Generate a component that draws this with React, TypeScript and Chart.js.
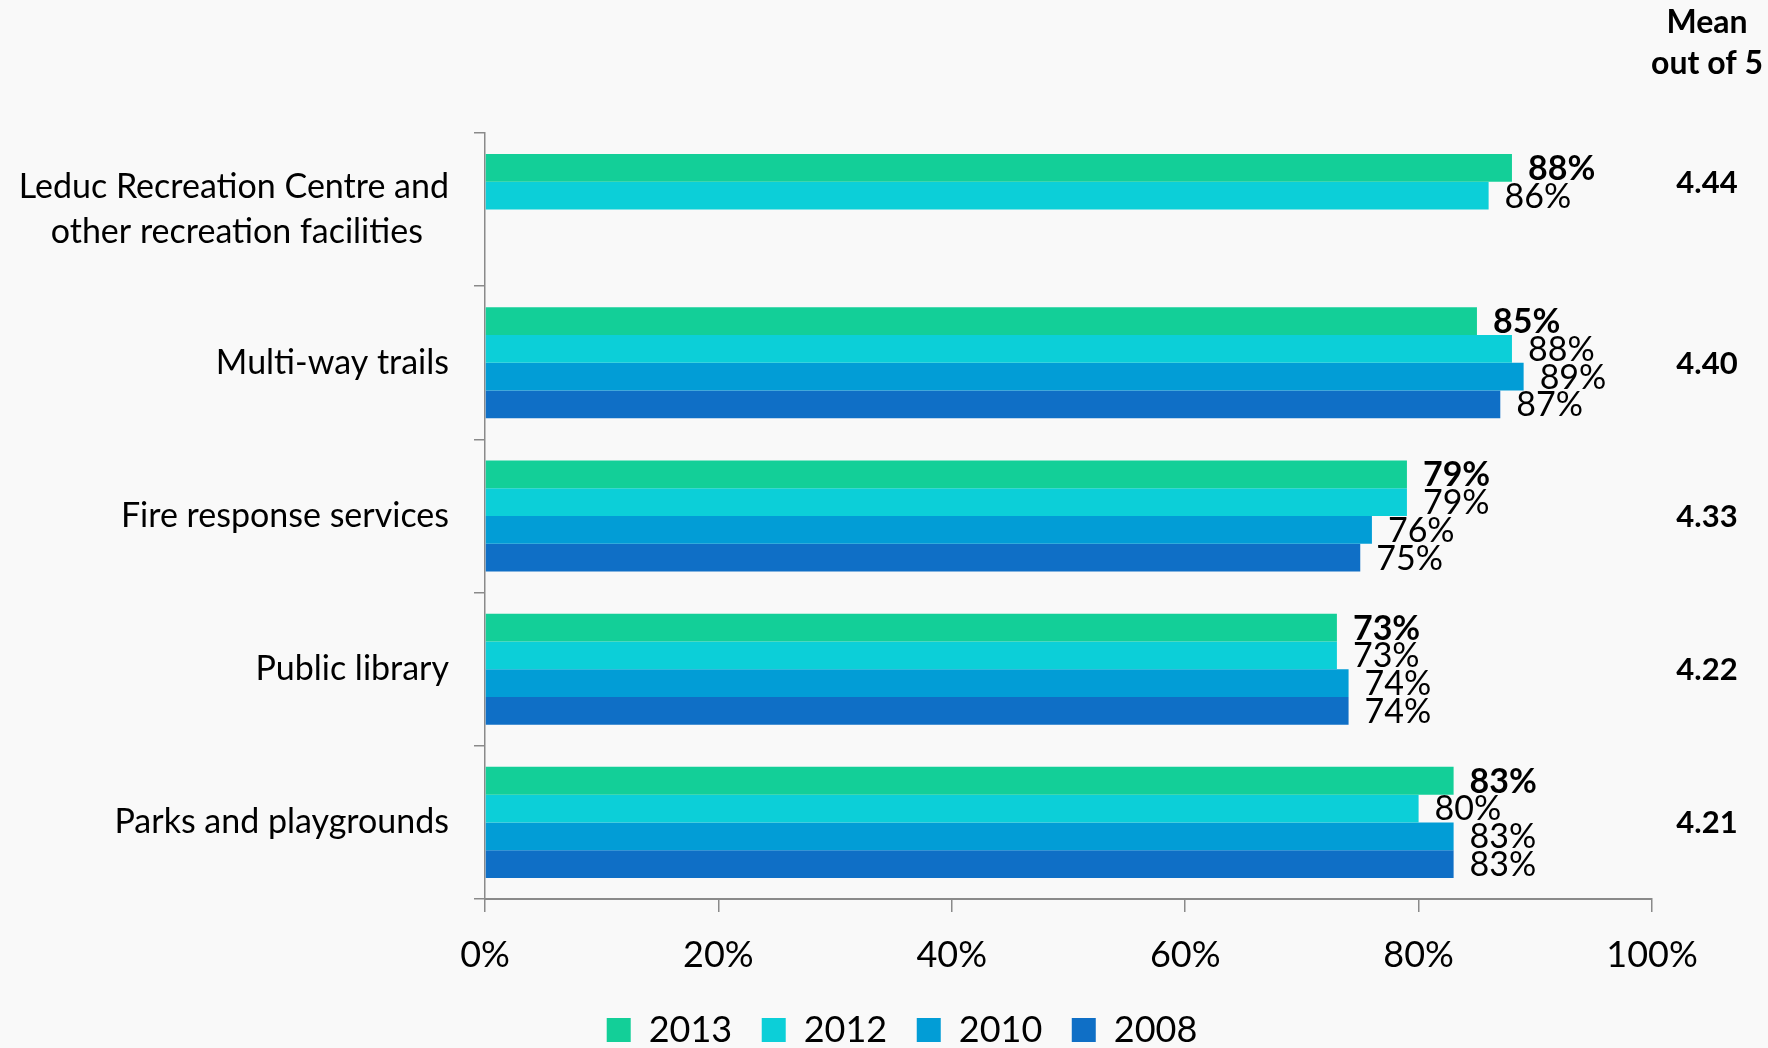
import React, { useEffect, useRef } from "react";
import { Chart, registerables } from "chart.js";

Chart.register(...registerables);

const categories: (string | string[])[] = [
  ["Leduc Recreation Centre and", "other recreation facilities\u00A0\u00A0\u00A0"],
  "Multi-way trails",
  "Fire response services",
  "Public library",
  "Parks and playgrounds",
];
const years = ["2013", "2012", "2010", "2008"];
const values2013 = [88, 85, 79, 73, 83];
const values2012 = [86, 88, 79, 73, 80];
const values2010 = [null, 89, 76, 74, 83];
const values2008 = [null, 87, 75, 74, 83];
const means = ["4.44", "4.40", "4.33", "4.22", "4.21"];
const meanHeader = ["Mean", "out of 5"];
const colors = ["#13CF98", "#0CCFD8", "#029DD6", "#0F6FC6"];

const FONT = "Lato";
const AXIS_GRAY = "#8a8a8a";
const LEGEND_LEFT_INSET = 152;

const valueLabels = {
  id: "valueLabels",
  afterDatasetsDraw(chart: any) {
    const ctx = chart.ctx;
    ctx.save();
    ctx.fillStyle = "#000";
    ctx.textBaseline = "middle";
    ctx.textAlign = "left";
    chart.data.datasets.forEach((ds: any, di: number) => {
      const meta = chart.getDatasetMeta(di);
      ctx.font = `${di === 0 ? "bold " : ""}34px ${FONT}`;
      meta.data.forEach((bar: any, i: number) => {
        const v = ds.data[i];
        if (v == null) return;
        ctx.fillText(`${v}%`, bar.x + 16, bar.y + 1);
      });
    });
    const area = chart.chartArea;
    const mx = area.right + 55;
    ctx.textAlign = "center";
    ctx.font = `bold 31px ${FONT}`;
    means.forEach((m, i) => {
      const ys: number[] = [];
      chart.data.datasets.forEach((ds: any, di: number) => {
        if (ds.data[i] != null) ys.push(chart.getDatasetMeta(di).data[i].y);
      });
      const y = ys.reduce((a, b) => a + b, 0) / ys.length;
      ctx.fillText(m, mx, y + 1);
    });
    ctx.font = `bold 32px ${FONT}`;
    ctx.fillText(meanHeader[0], mx, area.top - 110);
    ctx.fillText(meanHeader[1], mx, area.top - 69);
    ctx.restore();
  },
};

const legendShift = {
  id: "legendShift",
  afterLayout(chart: any) {
    const lg = chart.legend;
    if (lg) {
      lg.left += LEGEND_LEFT_INSET;
      lg.width -= LEGEND_LEFT_INSET;
    }
  },
};

export default function App() {
  const ref = useRef<HTMLCanvasElement | null>(null);

  useEffect(() => {
    if (!ref.current) return;
    const series = [values2013, values2012, values2010, values2008];
    const chart = new Chart(ref.current, {
      type: "bar",
      data: {
        labels: categories,
        datasets: years.map((y, i) => ({
          label: y,
          data: series[i],
          backgroundColor: colors[i],
          borderWidth: 0,
          categoryPercentage: 0.725,
          barPercentage: 1,
        })),
      },
      options: {
        indexAxis: "y",
        responsive: false,
        animation: false,
        devicePixelRatio: 1,
        layout: { padding: { top: 133, right: 116, left: 0, bottom: 0 } },
        plugins: {
          title: { display: false },
          tooltip: { enabled: false },
          legend: {
            position: "bottom",
            align: "center",
            maxHeight: 65.5,
            labels: {
              boxWidth: 24,
              boxHeight: 24,
              padding: 29.5,
              color: "#000",
              font: { family: FONT, size: 36 },
            },
          },
        },
        scales: {
          x: {
            min: 0,
            max: 100,
            ticks: {
              stepSize: 20,
              padding: 22,
              color: "#000",
              font: { family: FONT, size: 36 },
              callback: (v: any) => `${v}%`,
            },
            grid: {
              drawOnChartArea: false,
              drawTicks: true,
              tickLength: 13,
              color: AXIS_GRAY,
              lineWidth: 1.5,
            },
            border: { display: true, color: AXIS_GRAY, width: 2 },
            afterFit: (scale: any) => {
              scale.height = 83.5;
            },
          },
          y: {
            ticks: {
              padding: 25,
              color: "#000",
              font: { family: FONT, size: 34, lineHeight: 1.3 },
            },
            grid: {
              drawOnChartArea: false,
              drawTicks: true,
              tickLength: 11,
              color: AXIS_GRAY,
              lineWidth: 1.5,
            },
            border: { display: true, color: AXIS_GRAY, width: 1.5 },
            afterFit: (scale: any) => {
              scale.width = 485;
            },
          },
        },
      },
      plugins: [valueLabels, legendShift],
    } as any);
    return () => chart.destroy();
  }, []);

  return (
    <div
      style={{
        position: "fixed",
        left: 0,
        top: 0,
        width: 1768,
        height: 1048,
        background: "#f9f9f9",
        overflow: "hidden",
      }}
    >
      <canvas ref={ref} width={1768} height={1048} style={{ width: 1768, height: 1048, display: "block" }} />
    </div>
  );
}
